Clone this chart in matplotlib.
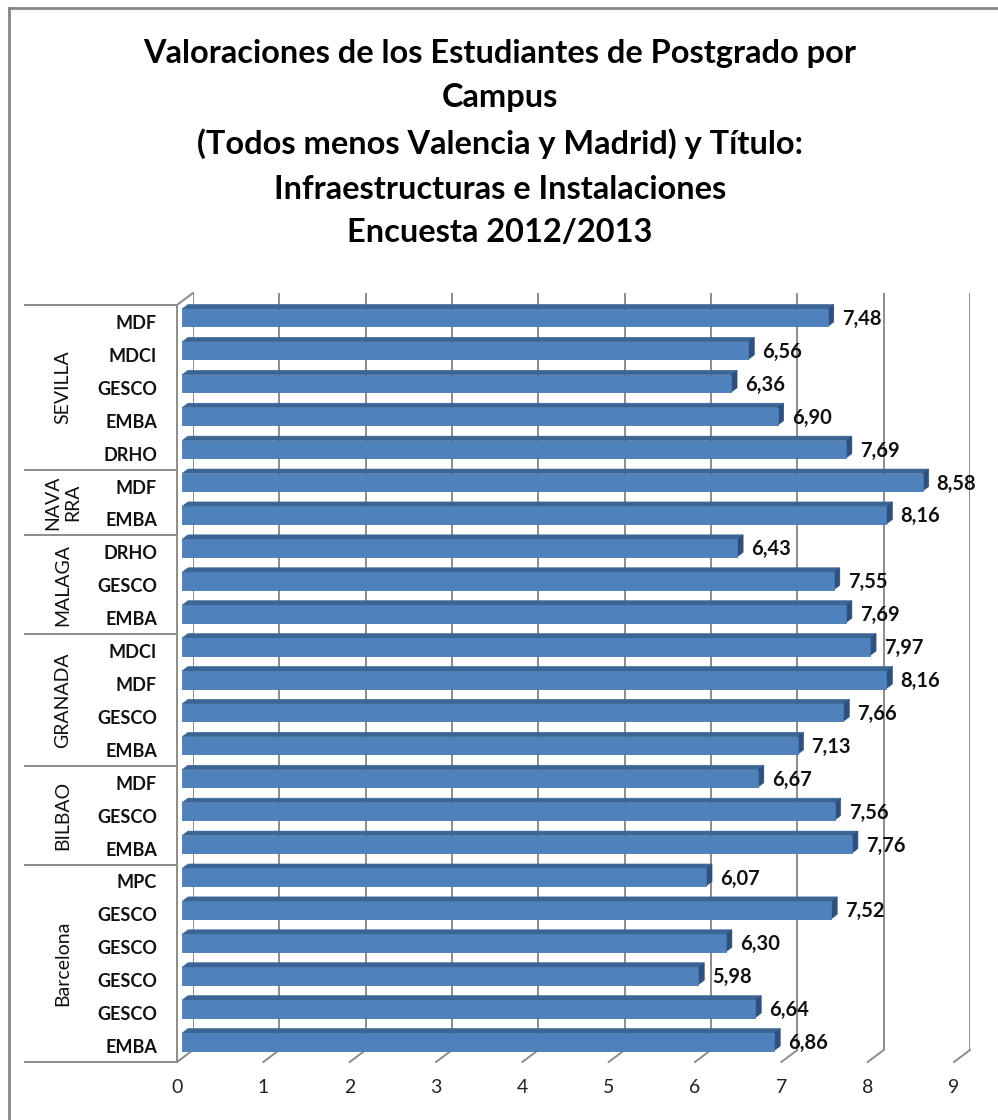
import numpy as np
import matplotlib
matplotlib.use("Agg")
import matplotlib.pyplot as plt
from matplotlib.transforms import ScaledTranslation
from matplotlib.patches import Polygon

# ---- data -------------------------------------------------------------
campuses = ["SEVILLA", "NAVA\nRRA", "MALAGA", "GRANADA", "BILBAO", "Barcelona"]

sevilla_programs = ["MDF", "MDCI", "GESCO", "EMBA", "DRHO"]
sevilla_values = [7.48, 6.56, 6.36, 6.90, 7.69]

navarra_programs = ["MDF", "EMBA"]
navarra_values = [8.58, 8.16]

malaga_programs = ["DRHO", "GESCO", "EMBA"]
malaga_values = [6.43, 7.55, 7.69]

granada_programs = ["MDCI", "MDF", "GESCO", "EMBA"]
granada_values = [7.97, 8.16, 7.66, 7.13]

bilbao_programs = ["MDF", "GESCO", "EMBA"]
bilbao_values = [6.67, 7.56, 7.76]

barcelona_programs = ["MPC", "GESCO", "GESCO", "GESCO", "GESCO", "EMBA"]
barcelona_values = [6.07, 7.52, 6.30, 5.98, 6.64, 6.86]

x_ticks = [0, 1, 2, 3, 4, 5, 6, 7, 8, 9]

title_lines = [
    "Valoraciones de los Estudiantes de Postgrado por",
    "Campus",
    "(Todos menos Valencia y Madrid) y Título:",
    "Infraestructuras e Instalaciones",
    "Encuesta 2012/2013",
]

groups_programs = [sevilla_programs, navarra_programs, malaga_programs,
                   granada_programs, bilbao_programs, barcelona_programs]
groups_values = [sevilla_values, navarra_values, malaga_values,
                 granada_values, bilbao_values, barcelona_values]

programs = [p for g in groups_programs for p in g]
values = [v for g in groups_values for v in g]
sizes = [len(g) for g in groups_programs]
n = len(values)

# ---- figure / styling -------------------------------------------------
W, H, DPI = 998, 1120, 100
plt.rcParams["font.family"] = ["Lato", "DejaVu Sans"]
fig = plt.figure(figsize=(W / DPI, H / DPI), dpi=DPI)
fig.patch.set_facecolor("white")

GRID = "#8c8c8c"
FRONT = "#4f81bd"
TOP = "#3a6595"
SIDE = "#2d507e"
TXT = "#111111"

# back wall of the 3-D plot area (pixels)
BX0, BX1, BY0, BY1 = 193, 970, 293, 1050
ax = fig.add_axes([BX0 / W, 1 - BY1 / H, (BX1 - BX0) / W, (BY1 - BY0) / H])
ax.set_xlim(0, 9)
ax.set_ylim(n, 0)
for s in ax.spines.values():
    s.set_visible(False)
ax.set_facecolor("none")

sx = 9 / (BX1 - BX0)        # data units per pixel, x
sy = n / (BY1 - BY0)        # data units per pixel, y


def shift(dx, dy):
    """Pixel offset (dy positive = downwards) as a transform."""
    return ScaledTranslation(dx / DPI, -dy / DPI, fig.dpi_scale_trans)


# depth offsets (pixels) from back wall
FLOOR = (-16, 12)
BAR_F = (-11, 8.25)
BAR_B = (-5, 3.75)

# ---- walls and grid -----------------------------------------------------
lw = 1.4
for k in x_ticks:
    ax.plot([k, k], [0, n], color=GRID, lw=lw, zorder=1, solid_capstyle="butt")
    ax.plot([k, k + FLOOR[0] * sx], [n, n + FLOOR[1] * sy], color=GRID, lw=lw,
            zorder=1, clip_on=False)
ax.plot([0, FLOOR[0] * sx], [0, FLOOR[1] * sy], color=GRID, lw=lw, clip_on=False)
ax.plot([FLOOR[0] * sx, FLOOR[0] * sx], [FLOOR[1] * sy, n + FLOOR[1] * sy],
        color=GRID, lw=lw, clip_on=False)

# category table separators
bounds = np.concatenate([[0], np.cumsum(sizes)])
x_left = (25 - BX0) * sx
for b in bounds:
    ax.plot([x_left, FLOOR[0] * sx], [b + FLOOR[1] * sy] * 2, color=GRID,
            lw=lw, clip_on=False)

# ---- bars --------------------------------------------------------------
yc = np.arange(n) + 0.5
bh = 17.5 * sy
ax.barh(yc, values, height=bh, color=FRONT, edgecolor="#4779b3", linewidth=0.6,
        transform=ax.transData + shift(*BAR_F), zorder=4, clip_on=False)

fx, fy = BAR_F[0] * sx, BAR_F[1] * sy
bx, by = BAR_B[0] * sx, BAR_B[1] * sy
for y, v in zip(yc, values):
    yt, yb = y - bh / 2, y + bh / 2
    top = Polygon([(fx, yt + fy), (v + fx, yt + fy), (v + bx, yt + by), (bx, yt + by)],
                  closed=True, facecolor=TOP, edgecolor=TOP, lw=0.4, zorder=3,
                  clip_on=False)
    side = Polygon([(v + fx, yt + fy), (v + fx, yb + fy), (v + bx, yb + by), (v + bx, yt + by)],
                   closed=True, facecolor=SIDE, edgecolor=SIDE, lw=0.4, zorder=3,
                   clip_on=False)
    ax.add_patch(top)
    ax.add_patch(side)
    ax.annotate(f"{v:.2f}".replace(".", ","), xy=(v, y), xytext=(3 * 0.72, -9.5 * 0.72),
                textcoords="offset points", ha="left", va="center",
                fontsize=14.5, fontweight="bold", color=TXT, zorder=5,
                annotation_clip=False)

# ---- axes labels -------------------------------------------------------
ax.set_xticks(x_ticks)
ax.set_xticklabels([str(t) for t in x_ticks], fontsize=14, color="#222222")
ax.tick_params(axis="x", length=0, pad=21)
for lab in ax.get_xticklabels():
    lab.set_transform(lab.get_transform() + shift(-16, 0))

ax.set_yticks(yc)
ax.set_yticklabels(programs, fontsize=13, fontweight="bold", color=TXT)
ax.tick_params(axis="y", length=0, pad=26)
for lab in ax.get_yticklabels():
    lab.set_transform(lab.get_transform() + shift(0, 12.5))

x_grp = (63 - BX0) * sx
for name, b0, size in zip(campuses, bounds[:-1], sizes):
    ax.text(x_grp, b0 + size / 2 + FLOOR[1] * sy, name, rotation=90,
            ha="center", va="center", fontsize=14, color=TXT,
            linespacing=1.2, multialignment="center", clip_on=False)

# ---- title -------------------------------------------------------------
baselines = [63, 107, 154, 199, 242]
tsize = 20
probe = fig.text(0.5, 0.5, title_lines[0], fontsize=tsize, fontweight="bold")
fig.canvas.draw()
tsize *= 714 / probe.get_window_extent().width
probe.remove()
for line, yb in zip(title_lines, baselines):
    fig.text(500 / W, 1 - yb / H, line, ha="center", va="baseline",
             fontsize=tsize, fontweight="bold", color="#000000")

# chart-area frame (top and left edges)
fig.add_artist(plt.Line2D([9 / W, 1], [1 - 8 / H] * 2, color="#868686", lw=2.0,
                          transform=fig.transFigure))
fig.add_artist(plt.Line2D([9 / W] * 2, [0, 1 - 8 / H], color="#868686", lw=2.0,
                          transform=fig.transFigure))

fig.savefig("out.png", dpi=DPI, facecolor="white")
